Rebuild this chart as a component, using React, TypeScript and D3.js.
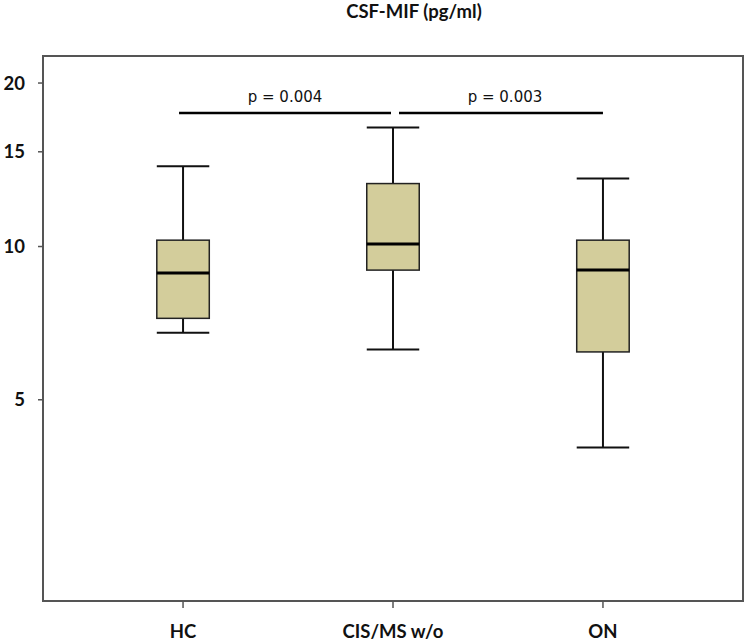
import React, { useEffect } from "react";
import * as d3 from "d3";

const categories = ["HC", "CIS/MS w/o", "ON"];
const whiskerLow = [6.82, 6.32, 3.97];
const q1 = [7.28, 9.02, 6.25];
const median = [8.91, 10.11, 9.02];
const q3 = [10.28, 13.11, 10.28];
const whiskerHigh = [14.11, 16.61, 13.39];
const yTicks = [5, 10, 15, 20];
const comparisons = [
  { from: 0, to: 1, label: "p = 0.004" },
  { from: 1, to: 2, label: "p = 0.003" },
];
const comparisonLevel = 17.65;
const title = "CSF-MIF (pg/ml)";

const W = 751;
const H = 641;
const left = 43;
const right = 743;
const top = 56;
const bottom = 601;

export default function App() {
  useEffect(() => {
    document.body.style.margin = "0";
  }, []);

  const x = d3.scalePoint<string>().domain(categories).range([left, right]).padding(0.667);
  const y = d3.scaleSymlog().constant(1).domain([1.707, 22.37]).range([bottom, top]);
  const step = x.step();
  const boxW = step * 0.25;
  const capW = step * 0.125;

  const fill = "#d3cd9b";
  const frame = "#555";
  const labelFont = "Lato, 'Open Sans', sans-serif";

  return (
    <svg width={W} height={H} style={{ position: "absolute", left: 0, top: 0, display: "block" }}>
      <rect x={0} y={0} width={W} height={H} fill="#fff" />
      <text x={414} y={18} textAnchor="middle" fontFamily={labelFont} fontWeight="bold" fontSize={18.5} fill="#111">
        {title}
      </text>
      <rect x={left} y={top} width={right - left} height={bottom - top} fill="none" stroke={frame} strokeWidth={2} />
      {yTicks.map((t) => (
        <g key={t}>
          <line x1={left - 5} x2={left} y1={y(t)} y2={y(t)} stroke={frame} strokeWidth={1.5} />
          <text x={25} y={y(t)} dy="0.36em" textAnchor="end" fontFamily={labelFont} fontWeight="bold" fontSize={18.5} fill="#111">
            {t}
          </text>
        </g>
      ))}
      {categories.map((c) => (
        <g key={c}>
          <line x1={x(c)!} x2={x(c)!} y1={bottom} y2={bottom + 7} stroke={frame} strokeWidth={1.5} />
          <text x={x(c)!} y={638} textAnchor="middle" fontFamily={labelFont} fontWeight="bold" fontSize={18.5} fill="#111">
            {c}
          </text>
        </g>
      ))}
      {categories.map((c, i) => {
        const cx = x(c)!;
        return (
          <g key={c}>
            <line x1={cx} x2={cx} y1={y(whiskerHigh[i])} y2={y(q3[i])} stroke="#111" strokeWidth={2} />
            <line x1={cx} x2={cx} y1={y(q1[i])} y2={y(whiskerLow[i])} stroke="#111" strokeWidth={2} />
            <line x1={cx - capW} x2={cx + capW} y1={y(whiskerHigh[i])} y2={y(whiskerHigh[i])} stroke="#111" strokeWidth={2} />
            <line x1={cx - capW} x2={cx + capW} y1={y(whiskerLow[i])} y2={y(whiskerLow[i])} stroke="#111" strokeWidth={2} />
            <rect x={cx - boxW / 2} y={y(q3[i])} width={boxW} height={y(q1[i]) - y(q3[i])} fill={fill} stroke="#222" strokeWidth={1.5} />
            <line x1={cx - boxW / 2} x2={cx + boxW / 2} y1={y(median[i])} y2={y(median[i])} stroke="#000" strokeWidth={3} />
          </g>
        );
      })}
      {comparisons.map((cmp, i) => {
        const x1 = x(categories[cmp.from])! + (i === 0 ? -4 : 6);
        const x2 = x(categories[cmp.to])! + (i === 0 ? -2 : 0);
        const yy = y(comparisonLevel);
        return (
          <g key={cmp.label}>
            <line x1={x1} x2={x2} y1={yy} y2={yy} stroke="#000" strokeWidth={2.5} />
            <text x={(x1 + x2) / 2 + (i === 0 ? 0 : 4)} y={yy - 11} textAnchor="middle" fontFamily="'DejaVu Sans', sans-serif" fontSize={15} fill="#111">
              {cmp.label}
            </text>
          </g>
        );
      })}
    </svg>
  );
}
